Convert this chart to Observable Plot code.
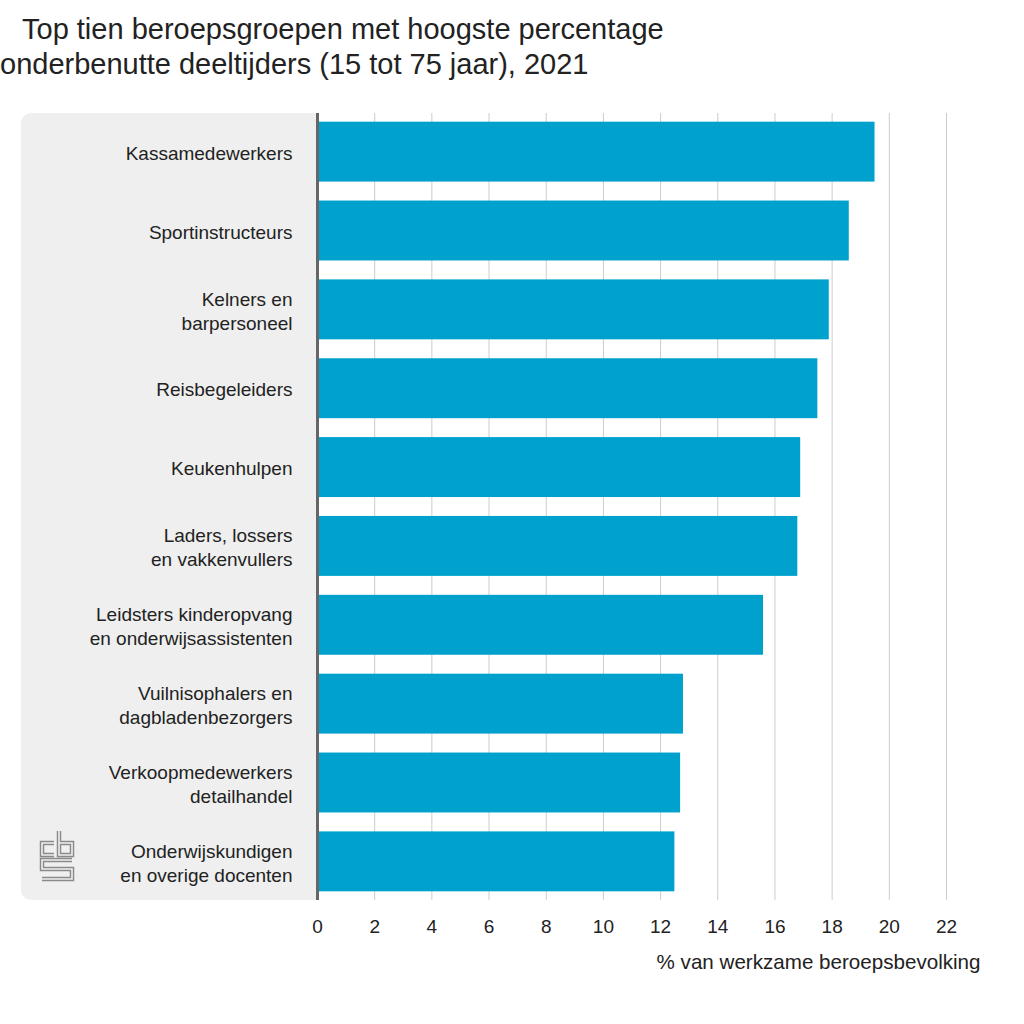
<!DOCTYPE html>
<html><head><meta charset="utf-8">
<script src="https://cdn.jsdelivr.net/npm/d3@7"></script>
<script src="https://cdn.jsdelivr.net/npm/@observablehq/plot@0.6"></script>
<style>
body{margin:0;background:#fff;font-family:"Liberation Sans",Arial,sans-serif;}
#wrap{position:relative;width:1024px;height:1024px;overflow:hidden;}
#title{height:100px;font-size:29px;line-height:35px;color:#222;padding-top:12px;box-sizing:border-box;white-space:nowrap;}
#panel{position:absolute;left:21px;top:113px;width:297px;height:787px;background:#efefef;border-radius:10px 0 0 10px;}
#chart{position:relative;}
#logo{position:absolute;left:39px;top:829px;}
</style></head><body>
<div id="wrap">
<div id="panel"></div>
<div id="title"><div style="padding-left:22px">Top tien beroepsgroepen met hoogste percentage</div><div>onderbenutte deeltijders (15 tot 75 jaar), 2021</div></div>
<div id="chart"></div>
<svg id="logo" width="36" height="54" viewBox="0 0 36 54">
  <g fill="none" stroke-linejoin="miter">
    <path d="M15,14 H3 V26 H15 M20,2 V26 H33 V14 H20 M33,31 H3 V40 H33 V50 H3" stroke="#8a8a8a" stroke-width="4.5"/>
    <path d="M15,14 H3 V26 H15 M20,2 V26 H33 V14 H20 M33,31 H3 V40 H33 V50 H3" stroke="#efefef" stroke-width="1.6"/>
  </g>
</svg>
</div>
<script>
const categories = [
  "Kassamedewerkers",
  "Sportinstructeurs",
  "Kelners en\nbarpersoneel",
  "Reisbegeleiders",
  "Keukenhulpen",
  "Laders, lossers\nen vakkenvullers",
  "Leidsters kinderopvang\nen onderwijsassistenten",
  "Vuilnisophalers en\ndagbladenbezorgers",
  "Verkoopmedewerkers\ndetailhandel",
  "Onderwijskundigen\nen overige docenten"
];
const values = [19.5, 18.6, 17.9, 17.5, 16.9, 16.8, 15.6, 12.8, 12.7, 12.5];
const xTicks = [0, 2, 4, 6, 8, 10, 12, 14, 16, 18, 20, 22];
const xLabel = "% van werkzame beroepsbevolking";

const data = categories.map((c, i) => ({category: c, value: values[i]}));

const chart = Plot.plot({
  width: 1024,
  height: 900,
  marginTop: 13,
  marginBottom: 100,
  marginLeft: 317,
  marginRight: 78,
  style: {fontFamily: '"Liberation Sans", Arial, sans-serif', fontSize: "19px", color: "#222", background: "transparent", overflow: "visible"},
  x: {domain: [0, 22], ticks: xTicks, label: null},
  y: {domain: categories, paddingInner: 0.24, paddingOuter: 0.11, round: false, label: null},
  marks: [
    Plot.gridX(xTicks, {stroke: "#cccccc", strokeOpacity: 1}),
    Plot.barX(data, {x: "value", y: "category", fill: "#00a2cd"}),
    Plot.ruleX([0], {stroke: "#666", strokeWidth: 3}),
    Plot.axisX({ticks: xTicks, tickSize: 0, tickPadding: 19, fontSize: 19, label: null}),
    Plot.axisY({tickSize: 0, tickPadding: 25, fontSize: 19, lineHeight: 1.263, label: null}),
    Plot.text([xLabel], {frameAnchor: "bottom-right", dx: 34, dy: 68, textAnchor: "end", fontSize: 20.6, fill: "#222"})
  ]
});
document.getElementById("chart").appendChild(chart);
</script>
</body></html>
